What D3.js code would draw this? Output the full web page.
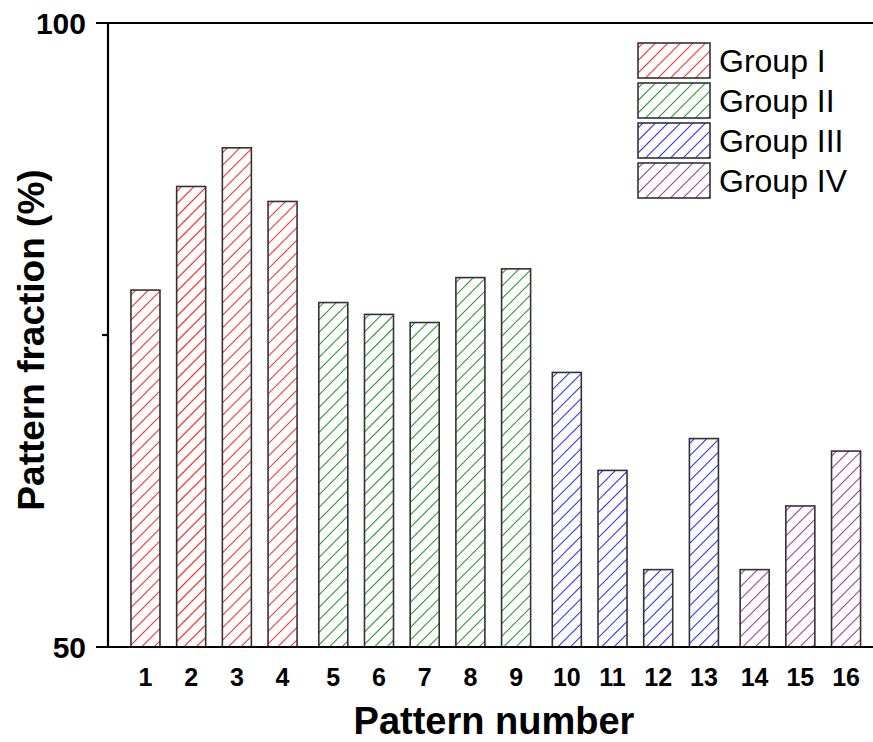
<!DOCTYPE html>
<html><head><meta charset="utf-8">
<script src="https://cdn.jsdelivr.net/npm/d3@7"></script>
<style>body{margin:0;background:#fff}svg{display:block}</style>
</head><body>
<svg id="c" width="873" height="742"></svg>
<script>
const patterns = [1,2,3,4,5,6,7,8,9,10,11,12,13,14,15,16];
const groupOf = [0,0,0,0,1,1,1,1,1,2,2,2,2,3,3,3];
const values = [78.6,86.9,90.0,85.7,77.6,76.65,76.0,79.6,80.3,72.0,64.15,56.2,66.7,56.2,61.3,65.7];
const groupNames = ["Group I","Group II","Group III","Group IV"];
const groupColors = ["#ff3030","#2e9a2e","#3030ff","#a040a0"];
const yTicks = [50,100];
const yMinor = [75];

const svg = d3.select("#c");
const font = "'Liberation Sans', Arial, sans-serif";
const groupGap = 0.11;
const xPos = (d,i) => (d-1) + groupOf[i]*groupGap;
const x = d3.scaleLinear().domain([-0.82, 15.92]).range([108, 873]);
const y = d3.scaleLinear().domain([50,100]).range([647, 23]);
const barW = 0.635;
const defs = svg.append("defs");
const SP = 12.5; // hatch spacing (px, vertical)

function hatchBox(parent, id, x0, y0, w, h, color){
  defs.append("clipPath").attr("id",id).append("rect").attr("x",x0).attr("y",y0).attr("width",w).attr("height",h);
  const g = parent.append("g").attr("clip-path",`url(#${id})`);
  const lines = [];
  for (let c = y0 + SP*0.4; c < y0 + h + w + SP; c += SP) lines.push(c);
  g.selectAll("line").data(lines).join("line")
    .attr("x1",x0).attr("y1",c=>c).attr("x2",x0+w+SP).attr("y2",c=>c-(w+SP))
    .attr("stroke",color).attr("stroke-width",1.1);
  parent.append("rect").attr("x",x0).attr("y",y0).attr("width",w).attr("height",h)
    .attr("fill","none").attr("stroke","#333").attr("stroke-width",1.6);
}

// bars
const unit = x(1)-x(0);
const bg = svg.append("g");
patterns.forEach((d,i)=>{
  const x0 = x(xPos(d,i)) - barW*unit/2;
  const yTop = y(values[i]);
  hatchBox(bg, "cb"+i, x0, yTop, barW*unit, y(50)-yTop, groupColors[groupOf[i]]);
});

// axes
const ax = svg.append("g");
ax.append("line").attr("x1",108).attr("x2",108).attr("y1",y(100)).attr("y2",y(50)).attr("stroke","#000").attr("stroke-width",2.2);
ax.append("line").attr("x1",96).attr("x2",873).attr("y1",y(50)).attr("y2",y(50)).attr("stroke","#000").attr("stroke-width",2.2);
ax.append("line").attr("x1",96).attr("x2",873).attr("y1",y(100)).attr("y2",y(100)).attr("stroke","#000").attr("stroke-width",2.2);
yMinor.forEach(v=>ax.append("line").attr("x1",102).attr("x2",108).attr("y1",y(v)).attr("y2",y(v)).attr("stroke","#000").attr("stroke-width",2.2));
yTicks.forEach(v=>ax.append("text").attr("x",86).attr("y",y(v)).attr("dy","0.36em")
  .attr("text-anchor","end").attr("font-family",font).attr("font-weight","bold").attr("font-size",30).text(v));

svg.append("g").selectAll("text").data(patterns).join("text")
  .attr("x",(d,i)=>x(xPos(d,i))).attr("y",686)
  .attr("text-anchor","middle").attr("font-family",font).attr("font-weight","bold").attr("font-size",25)
  .text(d=>d);

svg.append("text").attr("x",494).attr("y",734).attr("text-anchor","middle")
  .attr("font-family",font).attr("font-weight","bold").attr("font-size",38).text("Pattern number");
svg.append("text").attr("transform","translate(44,340) rotate(-90)").attr("text-anchor","middle")
  .attr("font-family",font).attr("font-weight","bold").attr("font-size",37).text("Pattern fraction (%)");

// legend
const lg = svg.append("g");
groupNames.forEach((n,g)=>{
  const top = 43 + g*40;
  hatchBox(lg, "cl"+g, 638, top, 72, 35, groupColors[g]);
  lg.append("text").attr("x",719).attr("y",top+17.5).attr("dy","0.36em")
    .attr("font-family",font).attr("font-size",32).text(n);
});
</script>
</body></html>
